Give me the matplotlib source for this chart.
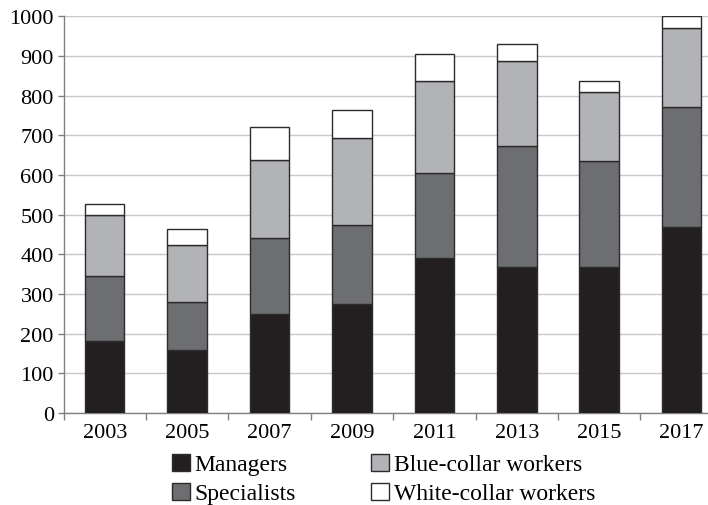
import numpy as np
import matplotlib
matplotlib.use("Agg")
import matplotlib.pyplot as plt
from matplotlib.patches import Patch

years = ["2003", "2005", "2007", "2009", "2011", "2013", "2015", "2017"]
managers = [182, 160, 249, 276, 390, 369, 369, 470]
specialists = [164, 120, 191, 198, 214, 305, 266, 302]
blue_collar = [154, 143, 199, 218, 234, 214, 175, 199]
white_collar = [28, 42, 82, 73, 68, 41, 28, 29]

series = [
    ("Managers", managers, "#231f20"),
    ("Specialists", specialists, "#6d6e71"),
    ("Blue-collar workers", blue_collar, "#b1b3b6"),
    ("White-collar workers", white_collar, "#ffffff"),
]

plt.rcParams["font.family"] = ["Liberation Serif", "DejaVu Serif"]

fig = plt.figure(figsize=(7.08, 5.06), dpi=100)
ax = fig.add_axes([0.0897, 0.1818, 0.9103, 0.784])

x = np.arange(len(years))
bottom = np.zeros(len(years))
for name, vals, color in series:
    ax.bar(x, vals, width=0.48, bottom=bottom, color=color,
           edgecolor="#2b2b2b", linewidth=1.0, label=name, zorder=3)
    bottom += np.array(vals)

ax.set_yticks(np.arange(0, 1001, 100))
ax.yaxis.grid(True, color="#c8c8c8", linewidth=1.0, zorder=0)

ax.set_xticks(x)
ax.set_xticklabels(years)
ax.set_xticks(np.arange(-0.5, 7.0, 1.0), minor=True)
ax.tick_params(axis="x", which="major", length=0, pad=7, labelsize=16)
ax.tick_params(axis="x", which="minor", length=5, color="#808080", width=1)
ax.tick_params(axis="y", length=4, color="#808080", width=1, pad=3, labelsize=16)

# limits last so the tick setters don't widen the view
ax.set_ylim(0, 1000)
ax.set_xlim(-0.5, 7.32)

for s in ["top", "right"]:
    ax.spines[s].set_visible(False)
for s in ["left", "bottom"]:
    ax.spines[s].set_color("#808080")
    ax.spines[s].set_linewidth(1.0)

handles = [Patch(facecolor=c, edgecolor="#2b2b2b", linewidth=1.0, label=n)
           for n, _, c in series]
fig.legend(handles=handles, ncol=2, loc="upper left", bbox_to_anchor=(0.226, 0.125),
           frameon=False, fontsize=17, handlelength=0.75, handleheight=0.75,
           handletextpad=0.2, columnspacing=3.2, labelspacing=0.3,
           borderpad=0)

fig.savefig("out.png", dpi=100)
